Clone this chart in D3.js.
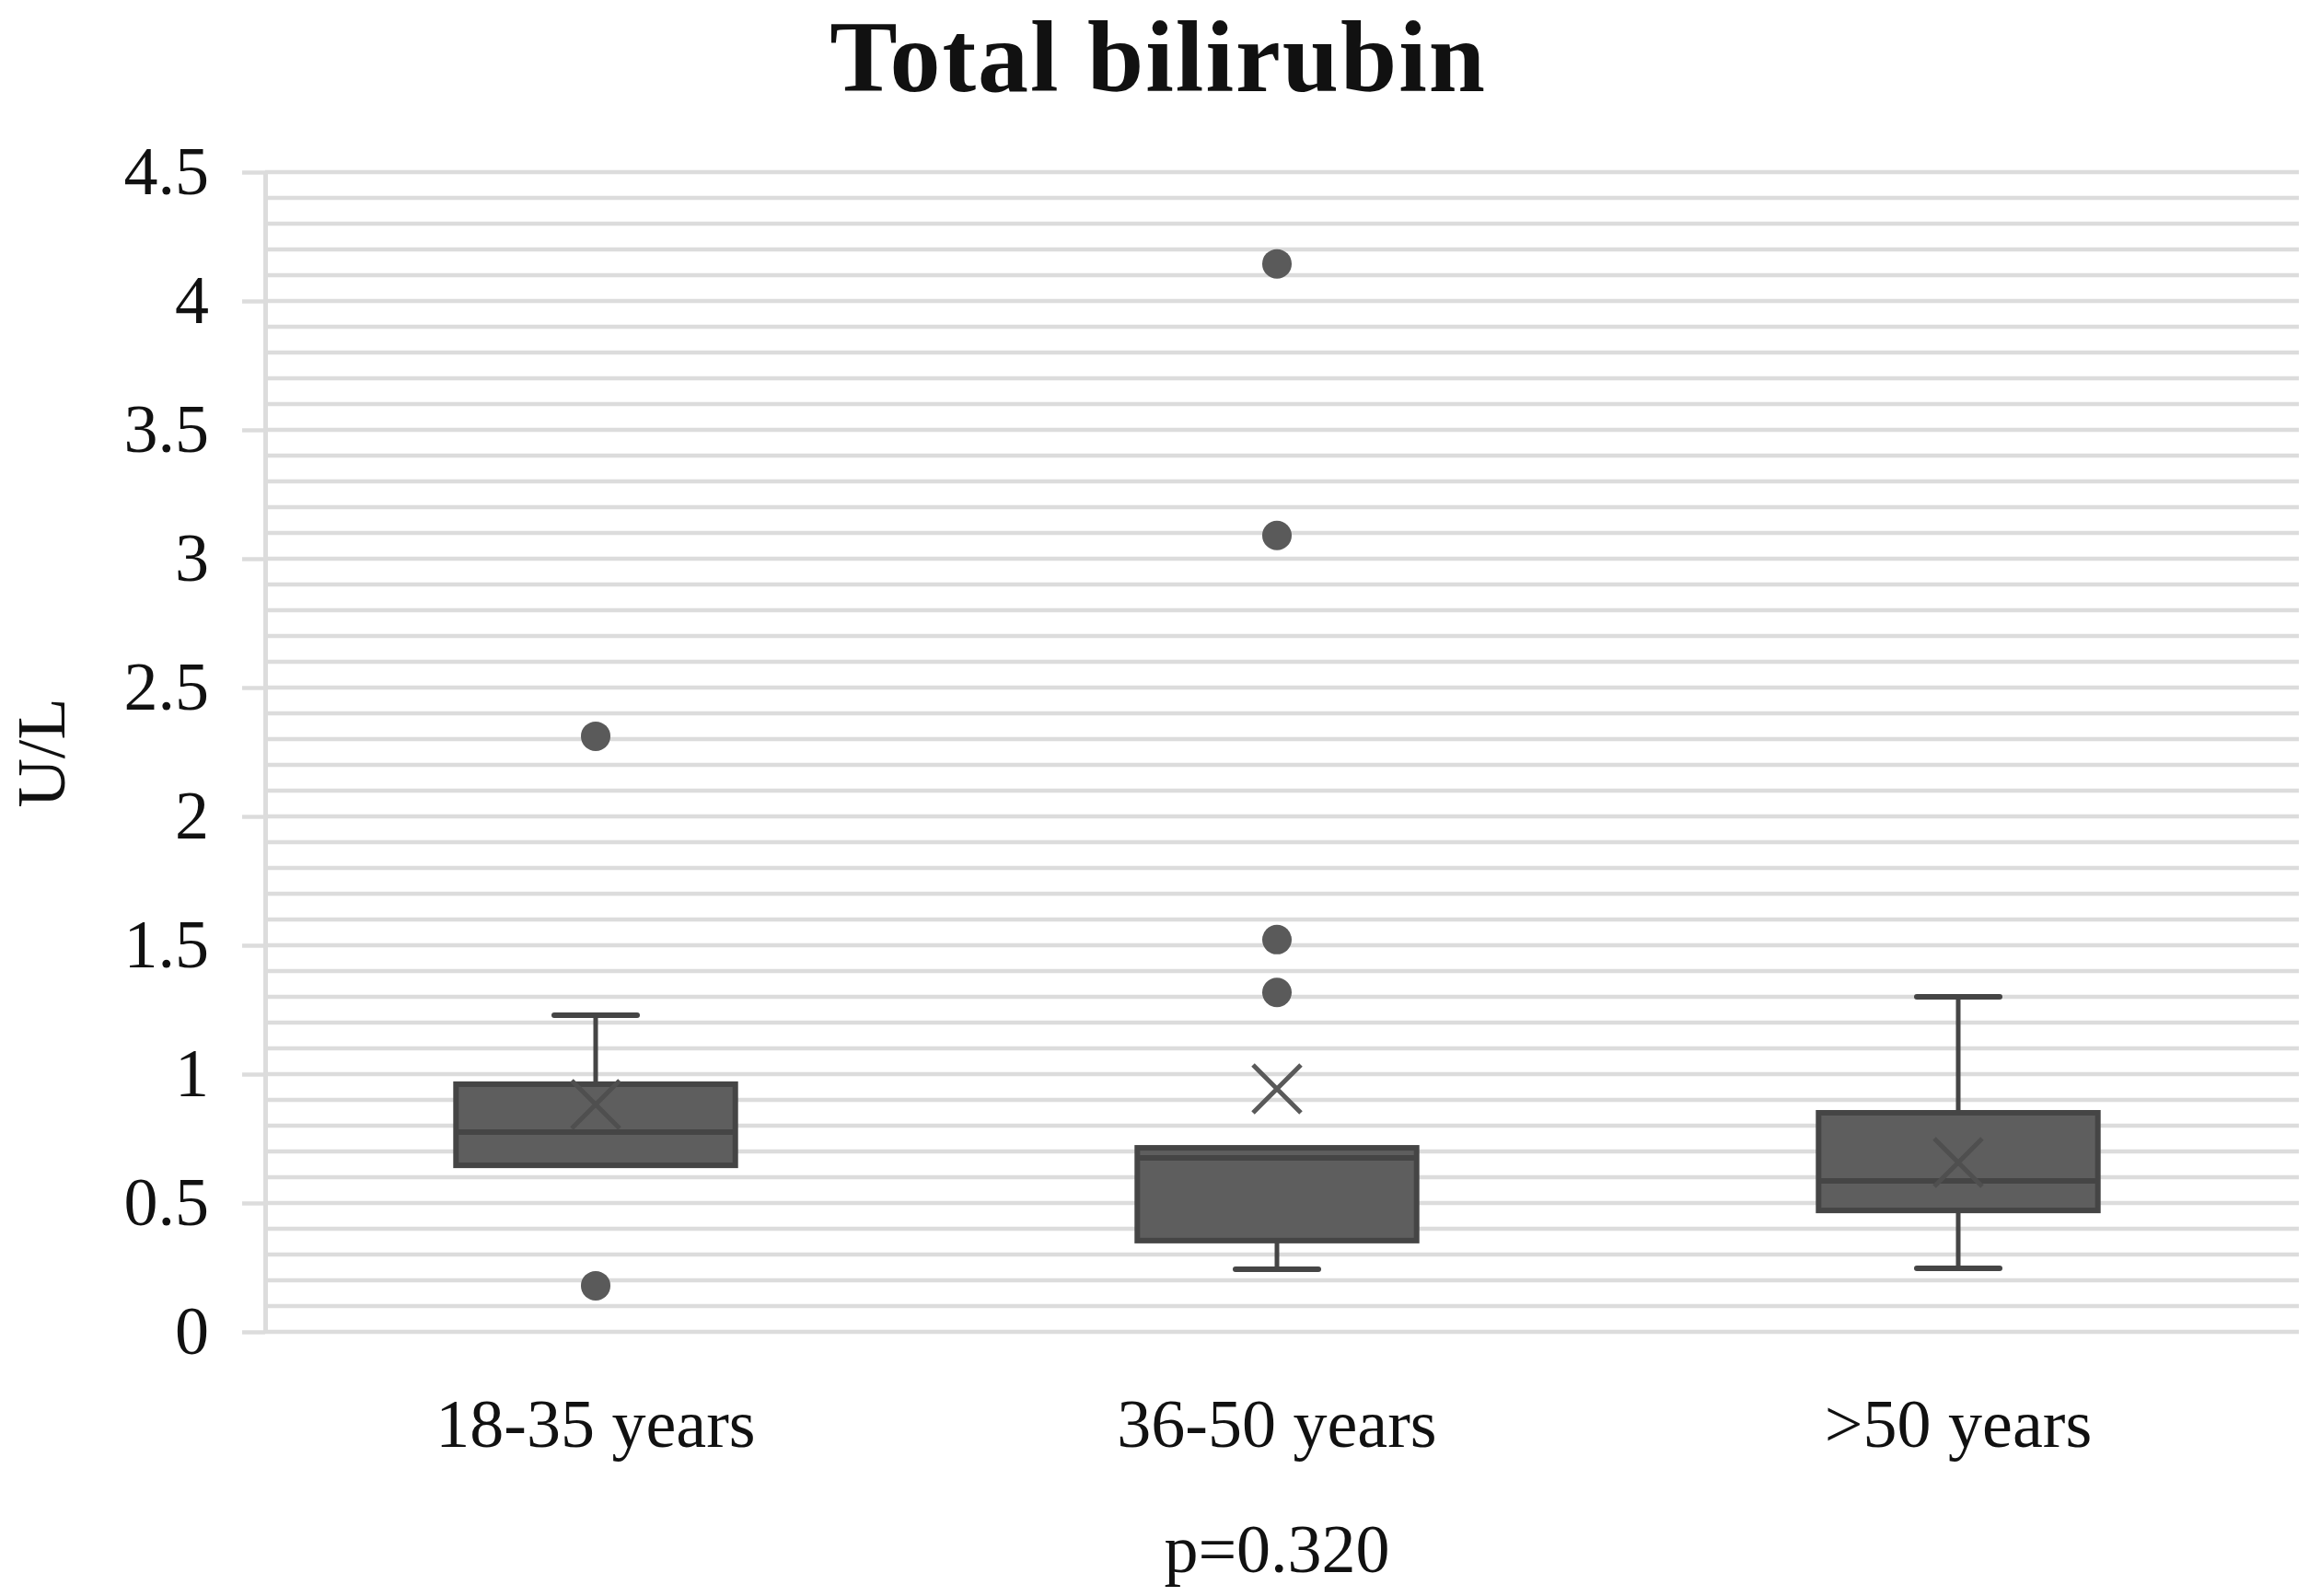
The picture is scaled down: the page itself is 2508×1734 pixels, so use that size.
<!DOCTYPE html>
<html>
<head>
<meta charset="utf-8">
<script src="https://cdn.jsdelivr.net/npm/d3@7"></script>
<style>
  html, body { margin: 0; padding: 0; background: #fff; }
  svg { display: block; }
  text { font-family: "Liberation Serif", "Times New Roman", serif; fill: #111; }
</style>
</head>
<body>
<svg id="chart" width="2508" height="1734"></svg>
<script>
// ---- data ----
const categories = ["18-35 years", "36-50 years", ">50 years"];
const whiskerLow  = [0.646, 0.243, 0.246];
const q1          = [0.646, 0.354, 0.471];
const median      = [0.775, 0.675, 0.586];
const q3          = [0.961, 0.714, 0.850];
const whiskerHigh = [1.229, 0.714, 1.300];
const means       = [0.882, 0.943, 0.657];
const outliers    = [[2.311, 0.179], [4.144, 3.090, 1.522, 1.317], []];
const yTicks      = [0, 0.5, 1, 1.5, 2, 2.5, 3, 3.5, 4, 4.5];
const minorStep   = 0.1;
const titleText   = "Total bilirubin";
const yTitle      = "U/L";
const pText       = "p=0.320";

// ---- layout ----
const svg = d3.select("#chart");
const axisX = 288, plotRight = 2497, plotTop = 187, plotBottom = 1447;

const x = d3.scaleBand().domain(categories).range([277, 2497]).paddingInner(0).paddingOuter(0);
const y = d3.scaleLinear().domain([0, 4.5]).range([plotBottom, plotTop]);

const grid = "#dcdcdc";
const dark = "#454545";
const fill = "#5e5e5e";

// minor + major gridlines
const gridVals = d3.range(0, 45 + 1).map(i => +(i * minorStep).toFixed(2));
svg.append("g").selectAll("line").data(gridVals).join("line")
  .attr("x1", axisX).attr("x2", plotRight)
  .attr("y1", d => y(d)).attr("y2", d => y(d))
  .attr("stroke", grid).attr("stroke-width", 4.5);

// y axis
const yAxis = svg.append("g").attr("transform", `translate(${axisX},0)`)
  .call(d3.axisLeft(y).tickValues(yTicks).tickSize(25).tickSizeOuter(0).tickPadding(36)
    .tickFormat(d => String(d)));
yAxis.select(".domain").attr("stroke", grid).attr("stroke-width", 5);
yAxis.selectAll(".tick line").attr("stroke", grid).attr("stroke-width", 4.5);
yAxis.selectAll(".tick text").attr("font-size", 74).attr("fill", "#111")
  .style("font-family", "'Liberation Serif', serif");

// x axis labels
const xAxis = svg.append("g").attr("transform", `translate(0,${plotBottom})`)
  .call(d3.axisBottom(x).tickSize(0).tickPadding(0));
xAxis.select(".domain").remove();
xAxis.selectAll(".tick text").attr("font-size", 74).attr("fill", "#111")
  .attr("y", 125).attr("dy", 0)
  .style("font-family", "'Liberation Serif', serif");

// boxes
const boxW = x.bandwidth() * 0.41;
const capW = 90;
const g = svg.append("g");
categories.forEach((c, i) => {
  const cx = x(c) + x.bandwidth() / 2;
  // whiskers
  if (whiskerHigh[i] > q3[i]) {
    g.append("line").attr("x1", cx).attr("x2", cx)
      .attr("y1", y(q3[i])).attr("y2", y(whiskerHigh[i]))
      .attr("stroke", dark).attr("stroke-width", 5);
    g.append("line").attr("x1", cx - capW / 2).attr("x2", cx + capW / 2)
      .attr("y1", y(whiskerHigh[i])).attr("y2", y(whiskerHigh[i]))
      .attr("stroke", dark).attr("stroke-width", 6).attr("stroke-linecap", "round");
  }
  if (whiskerLow[i] < q1[i]) {
    g.append("line").attr("x1", cx).attr("x2", cx)
      .attr("y1", y(q1[i])).attr("y2", y(whiskerLow[i]))
      .attr("stroke", dark).attr("stroke-width", 5);
    g.append("line").attr("x1", cx - capW / 2).attr("x2", cx + capW / 2)
      .attr("y1", y(whiskerLow[i])).attr("y2", y(whiskerLow[i]))
      .attr("stroke", dark).attr("stroke-width", 6).attr("stroke-linecap", "round");
  }
  // box
  g.append("rect").attr("x", cx - boxW / 2).attr("width", boxW)
    .attr("y", y(q3[i])).attr("height", y(q1[i]) - y(q3[i]))
    .attr("fill", fill).attr("stroke", dark).attr("stroke-width", 6);
  // median
  g.append("line").attr("x1", cx - boxW / 2).attr("x2", cx + boxW / 2)
    .attr("y1", y(median[i])).attr("y2", y(median[i]))
    .attr("stroke", dark).attr("stroke-width", 6);
  // mean marker (X)
  const my = y(means[i]), s = 26;
  const inside = means[i] <= q3[i] && means[i] >= q1[i];
  const mc = inside ? "#4f4f4f" : "#5a5a5a";
  g.append("path")
    .attr("d", `M${cx - s},${my - s}L${cx + s},${my + s}M${cx + s},${my - s}L${cx - s},${my + s}`)
    .attr("stroke", mc).attr("stroke-width", 5).attr("fill", "none");
  // outliers
  g.selectAll(null).data(outliers[i]).join("circle")
    .attr("cx", cx).attr("cy", d => y(d)).attr("r", 16).attr("fill", "#5a5a5a");
});

// title
svg.append("text").attr("x", 1258).attr("y", 99).attr("text-anchor", "middle")
  .attr("font-size", 110).attr("font-weight", "bold").attr("letter-spacing", 2)
  .attr("fill", "#000").text(titleText);

// y title
svg.append("text").attr("transform", "translate(70,818) rotate(-90)")
  .attr("text-anchor", "middle").attr("font-size", 74).attr("fill", "#111").text(yTitle);

// p value
svg.append("text").attr("x", x(categories[1]) + x.bandwidth() / 2).attr("y", 1708)
  .attr("text-anchor", "middle").attr("font-size", 74).attr("fill", "#111").text(pText);
</script>
</body>
</html>
